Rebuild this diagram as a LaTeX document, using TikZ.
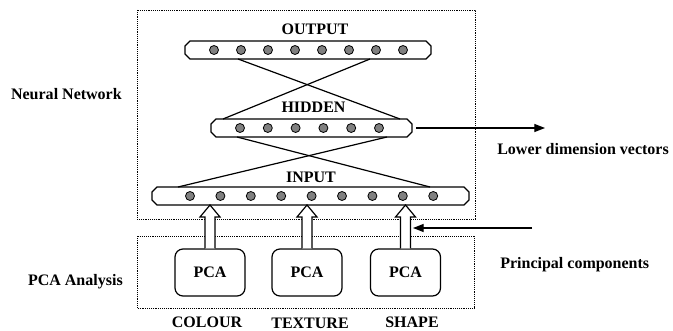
\documentclass[tikz,border=0pt]{standalone}
\usepackage{fontspec}
\setmainfont{Liberation Serif}
\usetikzlibrary{calc,arrows.meta}

% hollow block arrow from a PCA box up to a layer
\newcommand\pcaarrow[2]{%
  \draw[hollow] ($(#1.north)+(-5,0)$) -- ($(#1.north |- #2.south)+(-5,12)$)
    -- ++(-5,0) -- (#1.north |- #2.south) -- ($(#1.north |- #2.south)+(10,12)$)
    -- ++(-5,0) -- ($(#1.north)+(5,0)$);
}
% outline of a layer with cut-off corners
\newcommand\layeroutline[1]{%
  \draw[line width=0.9pt] ($(#1.west)+(0,-4)$) -- ($(#1.north west)+(5,0)$)
    -- ($(#1.north east)+(-5,0)$) -- ($(#1.east)+(0,-4)$) -- ($(#1.east)+(0,4)$)
    -- ($(#1.south east)+(-5,0)$) -- ($(#1.south west)+(5,0)$)
    -- ($(#1.west)+(0,4)$) -- cycle;
}

\begin{document}
\begin{tikzpicture}[x=0.75pt, y=-0.75pt,
  font=\fontsize{12}{14}\selectfont\bfseries,
  every node/.style={inner sep=0pt},
  panel/.style={draw, line width=0.6pt, dash pattern=on 0.6pt off 0.8pt},
  layer/.style={rectangle, outer sep=0pt, minimum height=13.5pt},
  unit/.style={circle, draw, line width=0.6pt, fill=gray, minimum size=6.75pt},
  pcabox/.style={draw, rounded corners=6pt, line width=0.9pt,
    minimum width=52.5pt, minimum height=35.25pt},
  link/.style={line width=0.9pt},
  pointer/.style={line width=0.9pt, -{Triangle[length=8pt, width=6pt]}},
  hollow/.style={draw, fill=white, line width=0.9pt}]
\useasboundingbox (0,0) rectangle (673,331);
% Dotted panels round the network and the PCA stage.
\draw[panel] (137,10) rectangle (475,219);
\draw[panel] (137,236) rectangle (474,308);
% Layers of the network.
\node[layer, minimum width=184.5pt] (output) at (308,50) {};
\node[layer, minimum width=150.75pt] (hidden) at (311.5,128) {};
\node[layer, minimum width=237.75pt] (input) at (310.5,196) {};
\layeroutline{output}
\layeroutline{hidden}
\layeroutline{input}
\foreach \i in {0,...,7}
  \node[unit] (out\i) at ($(output.center)+(-94+27*\i,0)$) {};
\foreach \i in {0,...,5}
  \node[unit] (hid\i) at ($(hidden.center)+(-71.5+27.8*\i,0)$) {};
\foreach \i in {0,...,8}
  \node[unit] (in\i) at ($(input.center)+(-120.5+30.4*\i,0)$) {};
\node[anchor=base] (outlabel) at (315,35) {OUTPUT};
\node[anchor=base] (hidlabel) at (313.5,113) {HIDDEN};
\node[anchor=base] (inlabel) at (311,183) {INPUT};
% Crossed links between the layers.
\draw[link] ($(output.south)+(-70,0)$) -- ($(hidden.north)+(88.5,0)$);
\draw[link] ($(output.south)+(62,0)$) -- ($(hidden.north)+(-88.5,0)$);
\draw[link] ($(hidden.south)+(-74.5,0)$) -- ($(input.north)+(119.5,0)$);
\draw[link] ($(hidden.south)+(75.5,0)$) -- ($(input.north)+(-132.5,0)$);
% PCA stage.
\node[pcabox] (pca1) at (210,272.5) {PCA};
\node[pcabox] (pca2) at (307,272.5) {PCA};
\node[pcabox] (pca3) at (405.5,272.5) {PCA};
\pcaarrow{pca1}{input}
\pcaarrow{pca2}{input}
\pcaarrow{pca3}{input}
\node[anchor=base] (colour) at (207,327) {COLOUR};
\node[anchor=base] (texture) at (310,328) {TEXTURE};
\node[anchor=base] (shape) at (412,327) {SHAPE};
% Side labels and pointers.
\node[anchor=base east] (nnlabel) at (122,100) {Neural Network};
\node[anchor=base east] (pcalabel) at (123,285) {PCA Analysis};
\coordinate (ldv) at (545,128);
\draw[pointer, shorten <=3pt] (hidden) -- (ldv);
\node[anchor=base west] (ldvlabel) at (497,155) {Lower dimension vectors};
\coordinate (pcstart) at (532,228);
\coordinate (pcend) at (413,228);
\draw[pointer] (pcstart) -- (pcend);
\node[anchor=base west] (pclabel) at (500,268) {Principal components};
\end{tikzpicture}
\end{document}
